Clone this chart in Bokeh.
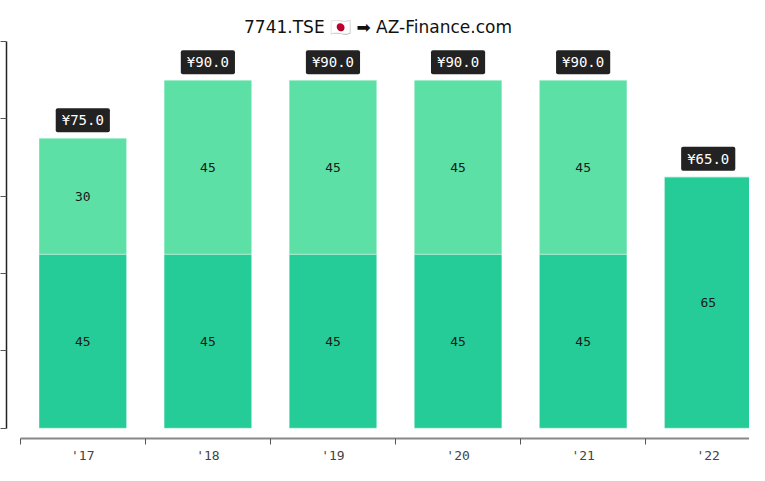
from bokeh.plotting import figure
from bokeh.models import Range1d, FixedTicker, ColumnDataSource
from bokeh.core.properties import value
from bokeh.embed import file_html
from bokeh.resources import INLINE

years = ["'17", "'18", "'19", "'20", "'21", "'22"]
first = [45, 45, 45, 45, 45, 65]
second = [30, 45, 45, 45, 45, 0]
totals = [f + s for f, s in zip(first, second)]
total_labels = ["¥%.1f" % t for t in totals]
y_ticks = [0, 20, 40, 60, 80, 100]

xs = [i + 0.5 for i in range(len(years))]

p = figure(width=749, height=465, output_backend="svg", toolbar_location=None,
           title="7741.TSE 🇯🇵 ➡ AZ-Finance.com",
           x_range=Range1d(-0.11, 5.83), y_range=Range1d(-2.66, 100),
           min_border_left=0, min_border_right=0, min_border_top=41, min_border_bottom=0)
p.title.align = "center"
p.title.text_font = "DejaVu Sans"
p.title.text_font_size = "17px"
p.title.text_font_style = "normal"
p.title.text_color = "#111111"
p.outline_line_color = None
p.grid.grid_line_color = None
p.background_fill_color = "white"

src = ColumnDataSource(dict(x=xs, first=first, second=second,
                            top2=totals,
                            mid1=[f / 2 for f in first],
                            lab1=[str(f) for f in first],
                            tot=totals, totlab=total_labels))
seg2 = [(x, f, s) for x, f, s in zip(xs, first, second) if s > 0]
src2 = ColumnDataSource(dict(x=[a for a, _, _ in seg2],
                             mid2=[f + s / 2 for _, f, s in seg2],
                             lab2=[str(s) for _, _, s in seg2]))

p.vbar(x="x", bottom=0, top="first", width=0.7, source=src,
       fill_color="#26cc98", line_color="#ffffff", line_alpha=0.35, line_width=1)
p.vbar(x="x", bottom="first", top="top2", width=0.7, source=src,
       fill_color="#5ce0a6", line_color="#ffffff", line_alpha=0.35, line_width=1)

p.text(x="x", y="mid1", text="lab1", source=src, text_align="center", text_baseline="middle",
       text_font=value("DejaVu Sans Mono"), text_font_size="13px", text_color="#1a1a1a")
p.text(x="x", y="mid2", text="lab2", source=src2, text_align="center", text_baseline="middle",
       text_font=value("DejaVu Sans Mono"), text_font_size="13px", text_color="#1a1a1a")
p.text(x="x", y="tot", text="totlab", source=src, text_align="center", text_baseline="middle",
       y_offset=-18, text_font=value("DejaVu Sans Mono"), text_font_size="14px",
       text_color="white", background_fill_color="#222222",
       padding=dict(top=4, right=6, bottom=4, left=6), border_radius=2)

ya = p.yaxis[0]
ya.ticker = FixedTicker(ticks=y_ticks)
ya.major_label_overrides = {t: "" for t in y_ticks}
ya.bounds = (0, 100)
ya.axis_line_color = "#222222"
ya.axis_line_width = 1.5
ya.major_tick_line_color = "#555555"
ya.major_tick_out = 6
ya.major_tick_in = 0
ya.minor_tick_line_color = None
ya.major_label_standoff = 0

xa = p.xaxis[0]
xa.ticker = FixedTicker(ticks=xs, minor_ticks=list(range(len(years) + 1)))
xa.major_label_overrides = {x: y for x, y in zip(xs, years)}
xa.bounds = (0, len(years))
xa.axis_line_color = "#888888"
xa.axis_line_width = 2
xa.major_tick_line_color = None
xa.minor_tick_line_color = "#555555"
xa.minor_tick_out = 6
xa.minor_tick_in = 0
xa.major_label_text_font = "DejaVu Sans Mono"
xa.major_label_text_font_size = "13px"
xa.major_label_text_color = "#444444"
xa.major_label_standoff = 3

open("out.html", "w").write(file_html(p, INLINE))
